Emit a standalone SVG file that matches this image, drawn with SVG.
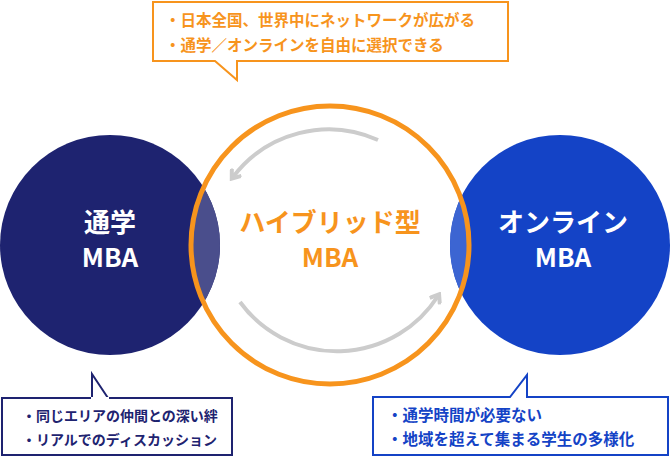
<svg xmlns="http://www.w3.org/2000/svg" width="670" height="457" viewBox="0 0 670 457">
<style>
text{font-family:"Noto Sans CJK JP","Noto Sans",sans-serif;font-weight:bold}
.big{font-size:26px;fill:#fff;text-anchor:middle}
.small{font-size:15.5px}
.ls{font-size:14px}
</style>
<defs>
<clipPath id="oc"><circle cx="330" cy="245" r="139"/></clipPath>
<marker id="ah" markerWidth="12" markerHeight="14" refX="7" refY="7" orient="auto" markerUnits="userSpaceOnUse"><path d="M1,1 L9,7 L1,13" fill="none" stroke="#ccc" stroke-width="4"/></marker>
</defs>
<g id="left"><circle cx="110" cy="245" r="110" fill="#1e2370"/>
<circle cx="110" cy="245" r="110" fill="#4a4e8c" clip-path="url(#oc)"/>
<text class="big" x="110" y="232">通学</text><text class="big" x="110" y="267">MBA</text></g>
<g id="right"><circle cx="560" cy="245" r="110" fill="#1443c6"/>
<circle cx="560" cy="245" r="110" fill="#3c65d2" clip-path="url(#oc)"/>
<text class="big" x="563" y="232">オンライン</text><text class="big" x="563" y="267">MBA</text></g>
<g id="center"><circle cx="330" cy="245" r="139" fill="none" stroke="#f7941d" stroke-width="5"/>
<text class="big" x="330" y="232" style="fill:#f7941d">ハイブリッド型</text><text class="big" x="330" y="267" style="fill:#f7941d">MBA</text></g>
<g id="connectors" fill="none" stroke="#ccc" stroke-width="4">
<path d="M378,140 A120,120 0 0 0 233,177" marker-end="url(#ah)"/>
<path d="M240,302 A120,120 0 0 0 438,296" marker-end="url(#ah)"/>
</g>
<g id="topnote"><path d="M153,2 H508 V61 H237 L237,80 L215,61 H153 Z" fill="#fff" stroke="#f7941d" stroke-width="2"/>
<text class="small" x="165" y="26" fill="#f7941d">・日本全国、世界中にネットワークが広がる</text>
<text class="small" x="165" y="51" fill="#f7941d">・通学／オンラインを自由に選択できる</text></g>
<g id="leftnote"><path d="M2,398 H232 V455 H2 Z M92,398 V374 L108,398" fill="#fff" stroke="#1e2370" stroke-width="2"/>
<rect x="91" y="397" width="18" height="2" fill="#fff"/>
<text class="ls" x="22" y="421" fill="#1e2370">・同じエリアの仲間との深い絆</text>
<text class="ls" x="22" y="445" fill="#1e2370">・リアルでのディスカッション</text></g>
<g id="rightnote"><path d="M373,397 H510 L527,375 V397 H668 V455 H373 Z" fill="#fff" stroke="#1443c6" stroke-width="2"/>
<text class="small" x="387" y="421" fill="#1443c6">・通学時間が必要ない</text>
<text class="small" x="387" y="445" fill="#1443c6">・地域を超えて集まる学生の多様化</text></g>
</svg>
